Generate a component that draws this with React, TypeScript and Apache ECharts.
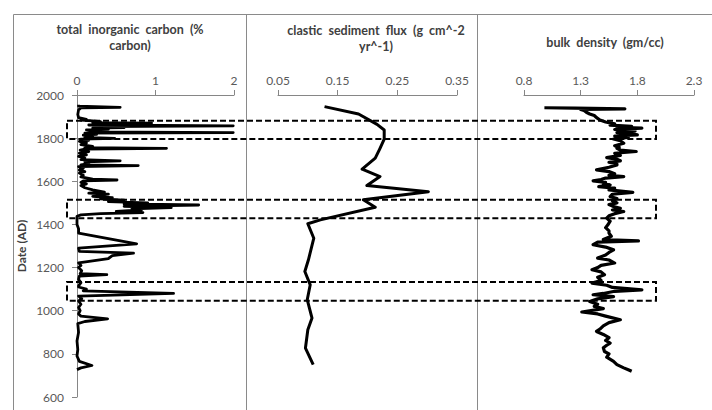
import React, { useEffect, useRef } from "react";
import * as echarts from "echarts";

// ---- data ----
const ticDates = [
  1955, 1948, 1943, 1940, 1931, 1910, 1895, 1887, 1884, 1880, 1876, 1872, 1870, 1867, 1864, 1861, 1857, 1854,
  1849, 1846, 1842, 1838, 1834, 1829, 1826, 1823, 1818, 1814, 1808, 1803, 1799, 1795, 1790, 1785, 1778, 1770,
  1762, 1756, 1753, 1749, 1744, 1738, 1730, 1722, 1715, 1708, 1700, 1695, 1690, 1682, 1676, 1673, 1668, 1660,
  1652, 1645, 1638, 1628, 1620, 1610, 1606, 1602, 1595, 1588, 1580, 1570, 1560, 1550, 1545, 1540, 1530, 1524,
  1518, 1512, 1506, 1500, 1495, 1490, 1484, 1478, 1472, 1467, 1460, 1455, 1450, 1444, 1438, 1420, 1400, 1380,
  1360, 1310, 1290, 1275, 1267, 1255, 1242, 1222, 1210, 1200, 1185, 1172, 1167, 1160, 1145, 1130, 1115, 1110,
  1100, 1092, 1080, 1068, 1055, 1045, 1030, 1015, 1000, 985, 975, 962, 950, 940, 900, 860, 820, 790, 765, 746,
  735, 727,
];
const ticValues = [
  0.02, 0.02, 0.55, 0.05, 0.02, 0.01, 0.02, 0.12, 0.05, 0.2, 0.3, 0.2, 0.95, 0.25, 0.7, 0.15, 1.99, 0.25,
  0.6, 0.2, 0.4, 0.12, 0.3, 0.15, 1.99, 0.1, 0.25, 0.08, 0.2, 0.1, 0.48, 0.05, 0.15, 0.03, 0.12, 0.05,
  0.2, 0.1, 1.14, 0.1, 0.04, 0.15, 0.03, 0.12, 0.02, 0.1, 0.05, 0.55, 0.1, 0.15, 0.05, 0.78, 0.02, 0.08,
  0.03, 0.1, 0.03, 0.08, 0.05, 0.2, 0.51, 0.08, 0.05, 0.12, 0.05, 0.1, 0.2, 0.35, 0.15, 0.4, 0.2, 0.45,
  0.3, 0.6, 0.4, 0.9, 0.6, 1.55, 0.6, 1.2, 0.7, 0.82, 0.5, 0.84, 0.3, 0.05, 0.0, 0.0, 0.0, 0.02,
  0.02, 0.76, 0.02, 0.03, 0.72, 0.45, 0.4, 0.02, 0.05, 0.02, 0.06, 0.04, 0.38, 0.03, 0.02, 0.05, 0.02, 0.02,
  0.12, 0.08, 1.23, 0.02, 0.06, 0.02, 0.05, 0.02, 0.04, 0.02, 0.05, 0.39, 0.1, 0.01, 0.02, 0.0, 0.01, 0.0, 0.03, 0.19,
  0.05, 0.0,
];

const fluxDates = [
  1946, 1912, 1864, 1838, 1795, 1753, 1707, 1656, 1622, 1580, 1552, 1514, 1480, 1421, 1403, 1336, 1236, 1182,
  1120, 1051, 966, 912, 827, 750,
];
const fluxValues = [
  0.128, 0.185, 0.216, 0.228, 0.228, 0.221, 0.213, 0.191, 0.221, 0.199, 0.302, 0.193, 0.213, 0.121, 0.1, 0.11,
  0.101, 0.095, 0.104, 0.099, 0.107, 0.1, 0.096, 0.109,
];

const densityDates = [
  1941, 1939, 1936, 1933, 1928, 1920, 1912, 1905, 1895, 1884, 1875, 1866, 1860, 1855, 1850, 1846, 1840, 1833,
  1826, 1820, 1815, 1810, 1803, 1796, 1788, 1776, 1765, 1758, 1753, 1745, 1738, 1730, 1720, 1710, 1702, 1695,
  1688, 1680, 1676, 1665, 1653, 1645, 1635, 1628, 1622, 1615, 1608, 1602, 1595, 1590, 1583, 1575, 1568, 1560,
  1549, 1540, 1529, 1520, 1510, 1500, 1492, 1483, 1475, 1467, 1460, 1450, 1440, 1429, 1415, 1398, 1385, 1370,
  1360, 1345, 1330, 1324, 1318, 1306, 1295, 1282, 1270, 1258, 1244, 1235, 1221, 1210, 1200, 1190, 1180, 1167,
  1155, 1140, 1128, 1118, 1108, 1097, 1090, 1080, 1074, 1065, 1055, 1043, 1030, 1020, 1010, 994, 985, 975,
  958, 945, 930, 915, 904, 890, 875, 862, 850, 840, 828, 811, 800, 785, 765, 750, 735, 726, 719,
];
const densityValues = [
  0.98, 1.25, 1.69, 1.3, 1.33, 1.35, 1.38, 1.42, 1.44, 1.47, 1.52, 1.6, 1.56, 1.75, 1.62, 1.84, 1.6, 1.78,
  1.62, 1.75, 1.8, 1.6, 1.72, 1.59, 1.65, 1.68, 1.6, 1.64, 1.62, 1.65, 1.79, 1.6, 1.65, 1.53, 1.62, 1.65,
  1.55, 1.62, 1.62, 1.55, 1.44, 1.55, 1.6, 1.55, 1.68, 1.52, 1.48, 1.41, 1.52, 1.5, 1.56, 1.46, 1.6, 1.55,
  1.76, 1.58, 1.56, 1.62, 1.58, 1.62, 1.55, 1.59, 1.65, 1.58, 1.68, 1.6, 1.55, 1.53, 1.56, 1.54, 1.52, 1.55,
  1.55, 1.57, 1.5, 1.81, 1.45, 1.41, 1.52, 1.59, 1.55, 1.52, 1.45, 1.55, 1.6, 1.48, 1.45, 1.4, 1.48, 1.51,
  1.45, 1.48, 1.4, 1.53, 1.58, 1.84, 1.6, 1.5, 1.41, 1.59, 1.45, 1.38, 1.45, 1.42, 1.5, 1.31, 1.45, 1.52,
  1.65, 1.55, 1.5, 1.47, 1.44, 1.5, 1.55, 1.52, 1.56, 1.53, 1.5, 1.51, 1.55, 1.53, 1.59, 1.62, 1.68, 1.72, 1.75,
];

// highlighted intervals (top date, bottom date)
const boxTops = [1881, 1514, 1133];
const boxBottoms = [1796, 1429, 1046];

const panelTitles = ["total  inorganic  carbon  (%\ncarbon)", "clastic  sediment  flux  (g  cm^-2\nyr^-1)", "bulk  density  (gm/cc)"];
const yAxisTitle = "Date (AD)";

const FONT = "Lato, 'Open Sans', sans-serif";
const AXIS_COLOR = "#868686";
const LABEL_COLOR = "#595959";
const TITLE_COLOR = "#404040";

function pairs(dates: number[], values: number[]) {
  return dates.map((d, i) => [values[i], d]);
}

export default function App() {
  const ref = useRef<HTMLDivElement>(null);
  useEffect(() => {
    if (!ref.current) return;
    const chart = echarts.init(ref.current, undefined, { renderer: "svg" });
    const top = 95;
    const height = 302;
    const grids = [
      { left: 77, top, width: 157, height },
      { left: 278, top, width: 179, height },
      { left: 524, top, width: 170, height },
      { left: 67, top, width: 589, height },
    ];
    const mkX = (i: number, min: number, max: number, interval: number, digits: number) => ({
      type: "value",
      gridIndex: i,
      position: "top",
      min,
      max,
      interval,
      axisLine: { show: true, lineStyle: { color: AXIS_COLOR, width: 1 } },
      axisTick: { show: true, length: 5, lineStyle: { color: AXIS_COLOR } },
      axisLabel: {
        color: LABEL_COLOR,
        fontSize: 12,
        fontFamily: FONT,
        margin: 9,
        formatter: (v: number) => v.toFixed(digits),
      },
      splitLine: { show: false },
    });
    const hiddenY = (i: number) => ({
      type: "value",
      gridIndex: i,
      min: 600,
      max: 2000,
      interval: 200,
      show: false,
      axisLine: { show: false },
      axisTick: { show: false },
      axisLabel: { show: false },
      splitLine: { show: false },
    });
    const lineSeries = (i: number, data: number[][], width: number) => ({
      type: "line",
      xAxisIndex: i,
      yAxisIndex: i,
      data,
      showSymbol: false,
      symbol: "none",
      lineStyle: { color: "#000", width, join: "round" },
      silent: true,
    });
    const frame = "#8a8a8a";
    const titleFont = `bold 12.5px ${FONT}`;
    chart.setOption({
      animation: false,
      backgroundColor: "#fff",
      grid: grids,
      xAxis: [
        mkX(0, 0, 2, 1, 0),
        mkX(1, 0.05, 0.35, 0.1, 2),
        mkX(2, 0.8, 2.3, 0.5, 1),
        { type: "value", gridIndex: 3, min: 0, max: 1, show: false },
      ],
      yAxis: [
        {
          type: "value",
          gridIndex: 0,
          min: 600,
          max: 2000,
          interval: 200,
          name: yAxisTitle,
          nameLocation: "middle",
          nameRotate: 90,
          nameGap: 50,
          nameTextStyle: { color: TITLE_COLOR, fontWeight: "bold", fontSize: 12, fontFamily: FONT },
          axisLine: { show: true, lineStyle: { color: AXIS_COLOR, width: 1 } },
          axisTick: { show: true, length: 5, lineStyle: { color: AXIS_COLOR } },
          axisLabel: {
            color: LABEL_COLOR,
            fontSize: 12,
            fontFamily: FONT,
            margin: 13,
            formatter: (v: number) => String(v),
          },
          splitLine: { show: false },
        },
        hiddenY(1),
        hiddenY(2),
        hiddenY(3),
      ],
      graphic: [
        { type: "line", shape: { x1: 13.5, y1: 14.5, x2: 712, y2: 14.5 }, style: { stroke: frame, lineWidth: 1 }, silent: true },
        { type: "line", shape: { x1: 13.5, y1: 14.5, x2: 13.5, y2: 410 }, style: { stroke: frame, lineWidth: 1 }, silent: true },
        { type: "line", shape: { x1: 246.5, y1: 14.5, x2: 246.5, y2: 410 }, style: { stroke: frame, lineWidth: 1 }, silent: true },
        { type: "line", shape: { x1: 477.5, y1: 14.5, x2: 477.5, y2: 410 }, style: { stroke: frame, lineWidth: 1 }, silent: true },
        {
          type: "text",
          x: 130,
          y: 21,
          style: { text: panelTitles[0], textAlign: "center", fill: TITLE_COLOR, font: titleFont, lineHeight: 16 },
        },
        {
          type: "text",
          x: 376,
          y: 22,
          style: { text: panelTitles[1], textAlign: "center", fill: TITLE_COLOR, font: titleFont, lineHeight: 16 },
        },
        {
          type: "text",
          x: 605,
          y: 34,
          style: { text: panelTitles[2], textAlign: "center", fill: TITLE_COLOR, font: titleFont, lineHeight: 16 },
        },
      ],
      series: [
        lineSeries(0, pairs(ticDates, ticValues), 2.8),
        lineSeries(1, pairs(fluxDates, fluxValues), 3),
        lineSeries(2, pairs(densityDates, densityValues), 3.2),
        {
          type: "line",
          xAxisIndex: 3,
          yAxisIndex: 3,
          data: [],
          silent: true,
          markArea: {
            silent: true,
            itemStyle: { color: "rgba(0,0,0,0)", borderColor: "#000", borderWidth: 2, borderType: [6, 3] },
            data: boxTops.map((t, i) => [{ yAxis: t }, { yAxis: boxBottoms[i] }]),
          },
        },
      ],
    });
    return () => chart.dispose();
  }, []);
  return <div ref={ref} style={{ position: "absolute", left: 0, top: 0, width: 712, height: 410 }} />;
}
